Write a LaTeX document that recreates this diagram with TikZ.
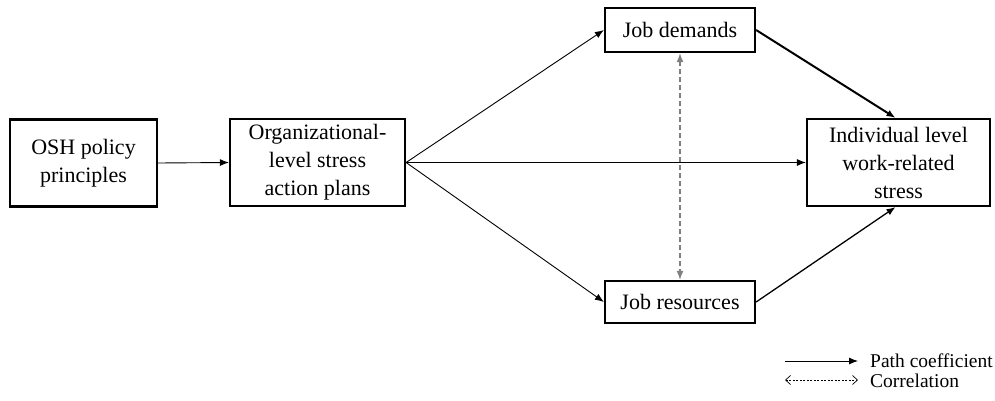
\documentclass[tikz,border=0pt]{standalone}
\usepackage{fontspec}
\setmainfont{Liberation Serif}
\usetikzlibrary{arrows.meta}
\begin{document}
\begin{tikzpicture}[x=1pt,y=-1pt,
  box/.style={draw, line width=2.2pt, align=center, inner sep=0pt,
    font=\fontsize{22}{28}\selectfont},
  path/.style={line width=0.9pt, -{Latex[length=9pt,width=7pt]}},
  corr/.style={draw=gray, line width=1.4pt, dash pattern=on 5pt off 3pt,
    {Latex[length=9pt,width=7pt]}-{Latex[length=9pt,width=7pt]}},
  legtext/.style={anchor=west, inner sep=0pt, font=\fontsize{19.5}{22}\selectfont}]
\useasboundingbox (0,0) rectangle (995,401);

% main boxes
\node[box, minimum width=147pt, minimum height=87pt] (osh) at (83.5,163) {OSH policy\\principles};
\node[box, minimum width=175pt, minimum height=87pt] (org) at (317.5,162.5) {Organizational-\\level stress\\action plans};
\node[box, minimum width=150pt, minimum height=44pt] (jd) at (680,30) {Job demands};
\node[box, minimum width=150pt, minimum height=42pt] (jr) at (680,302) {Job resources};
\node[box, minimum width=183pt, minimum height=87pt] (ind) at (898.5,162.5) {Individual level\\work-related\\stress};

% path coefficients
\draw[path] (osh.east) -- (org.west);
\draw[path] (org.east) -- (jd.west);
\draw[path] (org.east) -- (ind.west);
\draw[path] (org.east) -- (jr.west);
\draw[path, line width=2pt] (jd.east) -- ([xshift=-3pt]ind.north);
\draw[path, line width=1.3pt] (jr.east) -- ([xshift=-3pt]ind.south);

% correlation between job demands and job resources
\draw[corr] (jd.south) -- (jr.north);

% legend
\coordinate (l1a) at (785,361);
\coordinate (l1b) at (858,361);
\coordinate (l2a) at (785,380);
\coordinate (l2b) at (858,380);
\draw[path] (l1a) -- (l1b);
\draw[line width=0.7pt, dash pattern=on 2pt off 1.5pt,
  {Straight Barb[length=5pt,width=9pt]}-{Straight Barb[length=5pt,width=9pt]}] (l2a) -- (l2b);
\node[legtext] (lt1) at (870,361) {Path coefficient};
\node[legtext] (lt2) at (870,381) {Correlation};
\end{tikzpicture}
\end{document}
